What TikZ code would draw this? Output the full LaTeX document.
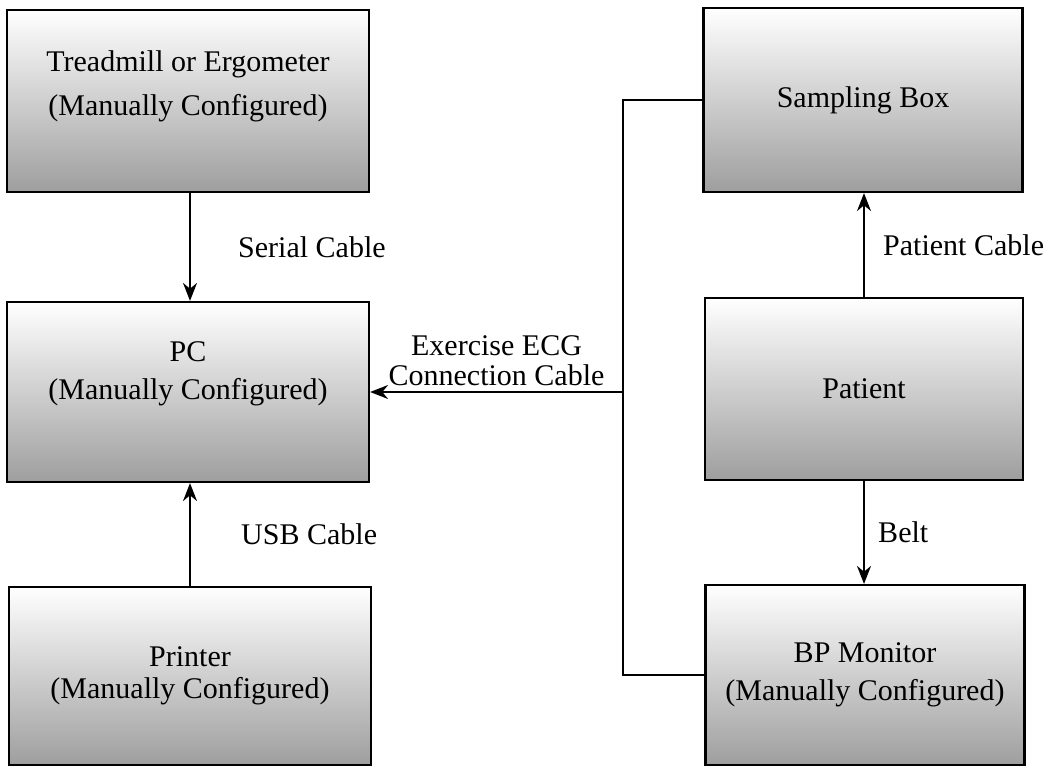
\documentclass[tikz,border=0pt]{standalone}
\usepackage{fontspec}
\setmainfont{Liberation Serif}
\usetikzlibrary{arrows.meta,positioning}

\tikzset{
  unit/.style={draw,line width=2.2pt,top color=white,bottom color=black!38,
    align=center,font=\fontsize{30}{38}\selectfont},
  cable/.style={line width=1.8pt,-{Stealth[length=18pt,width=14pt]}},
  lbl/.style={align=center,font=\fontsize{30}{36}\selectfont}
}

\begin{document}
\begin{tikzpicture}[x=1pt,y=-1pt]
        \useasboundingbox (0,0) rectangle (1052,770);

        % left column
        \node[unit,minimum width=362pt,minimum height=182pt,text depth=36pt] (tread) at (188,101) {Treadmill or Ergometer\\[6pt](Manually Configured)};
        \node[unit,minimum width=362pt,minimum height=180pt,text depth=42pt] (pc)    at (188,392) {PC\\(Manually Configured)};
        \node[unit,minimum width=362pt,minimum height=178pt] (printer) at (190,676) {Printer\\[-6pt](Manually Configured)};

        % right column
        \node[unit,minimum width=319pt,minimum height=184pt] (samp)    at (863,100) {Sampling Box};
        \node[unit,minimum width=318pt,minimum height=182pt] (patient) at (864,389) {Patient};
        \node[unit,minimum width=319pt,minimum height=180pt] (bpmon)   at (865,675) {BP Monitor\\(Manually Configured)};

        \coordinate (bus) at (623,392);

        \draw[cable] (tread.south -| 190,0) -- node[lbl,right=44pt] (serial) {Serial Cable} (pc.north -| 190,0);
        \draw[cable] (printer.north -| 190,0) -- node[lbl,right=47pt] (usb) {USB Cable} (pc.south -| 190,0);
        \draw[cable] (patient.north -| 864,0) -- node[lbl,right=15pt] (pcable) {Patient Cable} (samp.south -| 864,0);
        \draw[cable] (patient.south -| 864,0) -- node[lbl,right=10pt] (belt) {Belt} (bpmon.north -| 864,0);

        \draw[line width=1.8pt] (samp.west) -| (bus) |- (bpmon.west);
        \draw[cable] (bus) -- node[lbl,above=2pt] (ecg) {Exercise ECG\\[-6pt]Connection Cable} (pc.east);
\end{tikzpicture}
\end{document}
